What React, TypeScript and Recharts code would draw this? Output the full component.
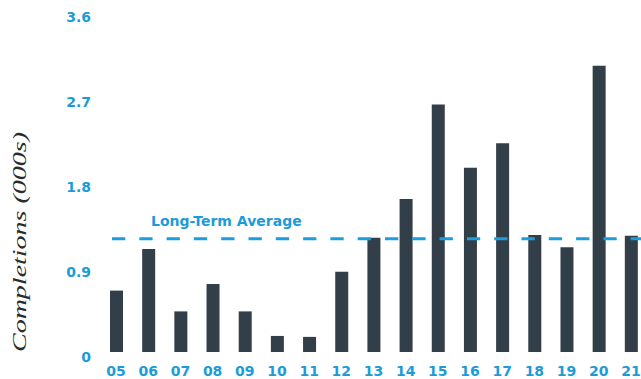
import React from "react";
import { BarChart, Bar, XAxis, YAxis, ReferenceLine } from "recharts";

const years = ["05", "06", "07", "08", "09", "10", "11", "12", "13", "14", "15", "16", "17", "18", "19", "20", "21"];
const completions = [0.65, 1.09, 0.43, 0.72, 0.43, 0.17, 0.16, 0.85, 1.21, 1.62, 2.62, 1.95, 2.21, 1.24, 1.11, 3.03, 1.23];
const yTicks = [0, 0.9, 1.8, 2.7, 3.6];
const longTermAverage = 1.2;
const averageLabel = "Long-Term Average";
const yTitle = "Completions (000s)";

const data = years.map((year, i) => ({ year, value: completions[i] }));

const BLUE = "#1b9cd9";
const LINE_BLUE = "#199fe0";
const BAR = "#323e48";

const tickStyle = {
  fill: BLUE,
  fontSize: 14,
  fontFamily: "DejaVu Sans",
  fontWeight: "bold",
};

const YTitle = (props: any) => {
  const vb = props.viewBox || { x: 0, y: 0, width: 0, height: 0 };
  const cx = vb.x + 20;
  const cy = vb.y + vb.height / 2 + 60;
  return (
    <text
      x={0}
      y={0}
      transform={`translate(${cx},${cy}) rotate(-90)`}
      textAnchor="middle"
      dominantBaseline="central"
      fontFamily="Liberation Serif"
      fontStyle="italic"
      fontSize={18}
      textLength={220}
      lengthAdjust="spacingAndGlyphs"
      fill="#2b2b2b"
    >
      {yTitle}
    </text>
  );
};

const AvgLabel = (props: any) => {
  const vb = props.viewBox || { x: 0, y: 0 };
  return (
    <text
      x={vb.x + 51}
      y={vb.y - 12.5}
      fill={BLUE}
      fontFamily="DejaVu Sans"
      fontWeight="bold"
      fontSize={14}
    >
      {averageLabel}
    </text>
  );
};

export default function App() {
  return (
    <div
      style={{
        position: "fixed",
        left: 0,
        top: 0,
        width: 641,
        height: 379,
        overflow: "hidden",
        background: "#fff",
      }}
    >
      <BarChart
        width={660}
        height={379}
        data={data}
        margin={{ top: 12, right: 13, left: 0, bottom: 0 }}
      >
        <XAxis
          dataKey="year"
          height={27}
          axisLine={false}
          tickLine={false}
          tickSize={0}
          tickMargin={14}
          interval={0}
          tick={tickStyle}
        />
        <YAxis
          width={100}
          domain={[0, 3.6]}
          ticks={yTicks}
          axisLine={false}
          tickLine={false}
          tickSize={0}
          tickMargin={9}
          tick={{ ...tickStyle, dy: 5 }}
          label={{ content: YTitle }}
        />
        <Bar dataKey="value" fill={BAR} barSize={13} isAnimationActive={false} />
        <ReferenceLine
          y={longTermAverage}
          stroke={LINE_BLUE}
          strokeWidth={3}
          strokeDasharray="13.3 14"
          strokeDashoffset={15.3}
          label={{ content: AvgLabel }}
        />
      </BarChart>
    </div>
  );
}
